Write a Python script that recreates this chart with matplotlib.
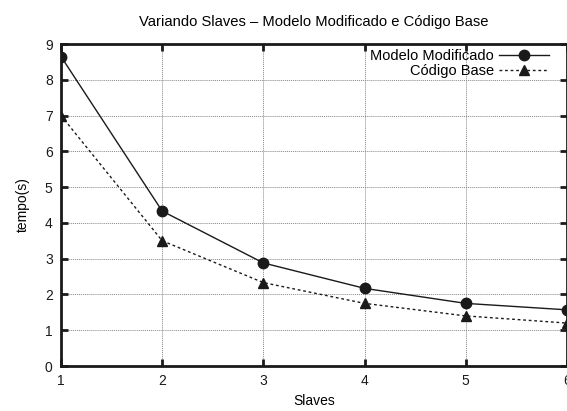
import numpy as np
import matplotlib.pyplot as plt
from matplotlib.ticker import MultipleLocator

plt.rcParams['font.family'] = ['Liberation Sans', 'DejaVu Sans']
plt.rcParams['font.size'] = 10

# data
slaves = [1, 2, 3, 4, 5, 6]
modelo_modificado = [8.65, 4.33, 2.88, 2.17, 1.75, 1.57]
codigo_base = [7.0, 3.5, 2.33, 1.75, 1.40, 1.20]

fig = plt.figure(figsize=(5.67, 4.11), dpi=100)
ax = fig.add_axes([61/567, 1 - 366/411, 506/567, 322/411])

ax.plot(slaves, modelo_modificado, color='#1a1a1a', linewidth=1.0,
        marker='o', markersize=7.5, label='Modelo Modificado')
ax.plot(slaves, codigo_base, color='#1a1a1a', linewidth=1.0,
        linestyle=(0, (2, 2)), marker='^', markersize=6.5, label='Código Base')

ax.set_xlim(1, 6)
ax.set_ylim(0, 9)
ax.xaxis.set_major_locator(MultipleLocator(1))
ax.yaxis.set_major_locator(MultipleLocator(1))
ax.grid(True, color='#888888', linestyle=(0, (1, 1)), linewidth=0.7)

for s in ax.spines.values():
    s.set_linewidth(2.0)
    s.set_color('#1a1a1a')
ax.tick_params(direction='in', length=5, width=2, top=True, right=True,
               labelsize=10, colors='#1a1a1a', pad=6)

ax.set_title('Variando Slaves \u2013 Modelo Modificado e Código Base',
             fontsize=10.6, pad=13)
ax.set_xlabel('Slaves', fontsize=10, labelpad=4)
ax.set_ylabel('tempo(s)', fontsize=10, labelpad=11)

leg = ax.legend(loc='upper right', frameon=False, markerfirst=False,
                handlelength=3.4, handletextpad=0.35, fontsize=10.5,
                borderaxespad=0, borderpad=0.15, labelspacing=0.05,
                bbox_to_anchor=(0.968, 0.99))
for t in leg.get_texts():
    t.set_ha('right')

fig.savefig('out.png', dpi=100)
